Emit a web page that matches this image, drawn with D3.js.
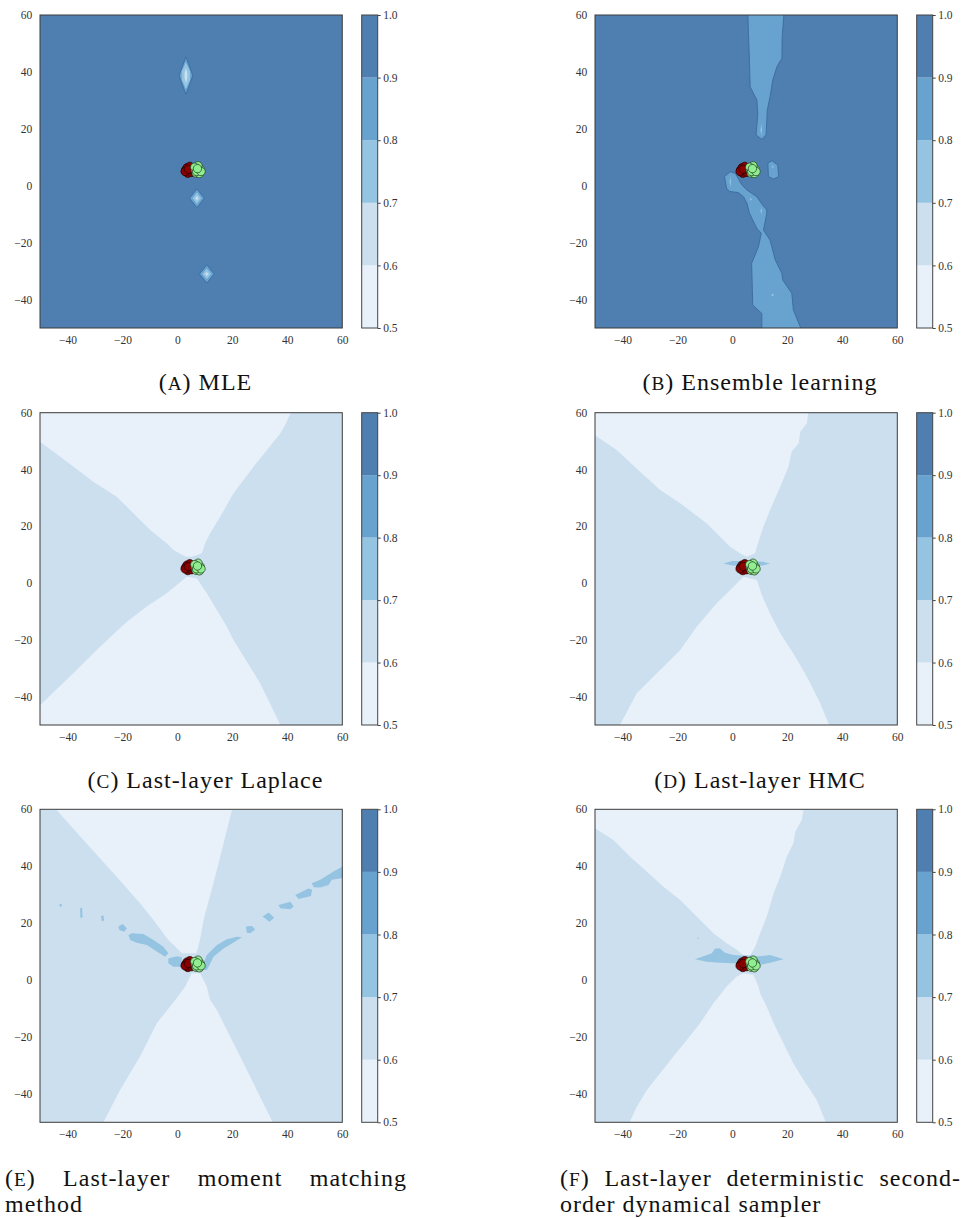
<!DOCTYPE html>
<html>
<head>
<meta charset="utf-8">
<script src="https://cdn.jsdelivr.net/npm/d3@7"></script>
<style>
  body { margin: 0; background: #fff; }
  svg { display: block; }
</style>
</head>
<body>
<svg id="fig" width="963" height="1218" font-family="Liberation Serif, DejaVu Serif, serif"></svg>
<script>
// ---- axes and colour levels ----
const xDomain = [-50, 60];
const yDomain = [-50, 60];
const xTicks = [-40, -20, 0, 20, 40, 60];
const yTicks = [-40, -20, 0, 20, 40, 60];
const levels = [0.5, 0.6, 0.7, 0.8, 0.9, 1.0];
const levelFills = ["#e8f1f9", "#cbdfef", "#94c4e1", "#68a2cf", "#4f7fb0"];

// ---- training points (two classes) ----
const redPoints = [[3.0, 5.5], [3.5, 6.3], [4.2, 5.0], [4.8, 6.0], [3.8, 4.4], [5.2, 4.7],
                   [4.5, 6.8], [2.8, 5.0], [5.5, 5.6], [4.0, 5.8]];
const greenPoints = [[6.5, 5.5], [7.2, 6.3], [7.8, 5.2], [6.8, 4.5], [8.3, 5.8], [7.5, 7.0],
                     [8.0, 4.3], [6.3, 6.5], [7.0, 5.0], [8.6, 5.0], [7.3, 6.0]];

// ---- confidence regions: lower level of each band + outline in data units ----
const mleRegions = [
  { lv: 0.8, pts: [[3.1, 45.3], [5.6, 38.7], [3.1, 32.1], [0.6, 38.7]] },
  { lv: 0.7, pts: [[3.1, 43.4], [4.6, 40.2], [4.6, 37.2], [3.1, 34.0], [1.6, 37.2], [1.6, 40.2]] },
  { lv: 0.6, pts: [[3.1, 41.5], [3.6, 39.5], [3.6, 37.9], [3.1, 36.0], [2.6, 37.9], [2.6, 39.5]] },
  { lv: 0.8, pts: [[7.1, -1.1], [9.8, -4.4], [7.1, -7.7], [4.4, -4.4]] },
  { lv: 0.7, pts: [[7.1, -2.4], [8.7, -4.4], [7.1, -6.4], [5.5, -4.4]] },
  { lv: 0.6, pts: [[7.1, -3.6], [7.7, -4.4], [7.1, -5.2], [6.5, -4.4]] },
  { lv: 0.8, pts: [[10.7, -27.8], [13.4, -31.0], [10.7, -34.2], [8.0, -31.0]] },
  { lv: 0.7, pts: [[10.7, -29.1], [12.3, -31.0], [10.7, -32.9], [9.1, -31.0]] },
  { lv: 0.6, pts: [[10.7, -30.3], [11.3, -31.0], [10.7, -31.7], [10.1, -31.0]] }
];

const ensembleRegions = [
  { lv: 0.8, pts: [[5.6, 61], [5.85, 53.6], [6.2, 44.2], [6.45, 34.8], [8.9, 30.1], [9.25, 25.4], [8.6, 17.8],
                   [10.7, 16.3], [12.25, 17.8], [12.7, 26.6], [13.7, 31.3], [14.7, 37.2], [16.2, 41.8],
                   [18.0, 44.8], [18.1, 52.4], [18.8, 61]] },
  { lv: 0.8, pts: [[-0.8, 4.9], [1.0, 4.4], [3.4, 0.3], [5.3, -1.5], [8.9, -3.9], [10.7, -6.4], [12.5, -8.5],
                   [12.5, -9.7], [11.3, -15.6], [13.7, -19.1], [15.6, -26.1], [18.0, -30.8], [18.3, -33.1],
                   [21.6, -37.8], [22.2, -43.7], [25.3, -51], [10.7, -51], [10.7, -44.9], [7.4, -41.9],
                   [7.0, -27.3], [9.5, -21.4], [10.5, -16.7], [8.9, -15.0], [6.2, -9.7], [5.3, -6.2],
                   [4.05, -3.9], [2.2, -2.4], [-1.1, -2.0], [-2.1, -0.9], [-2.9, 3.2]] },
  { lv: 0.8, pts: [[14.35, 8.8], [16.5, 7.3], [16.8, 3.2], [14.95, 2.35], [13.1, 3.2], [12.9, 7.9]] },
  { lv: 0.7, pts: [[10.5, 22.0], [10.8, 19.5], [10.5, 17.6], [10.2, 19.5]] },
  { lv: 0.7, pts: [[-0.75, 3.4], [-0.5, 1.4], [-0.75, -0.6], [-1.0, 1.4]] },
  { lv: 0.7, pts: [[6.7, -4.3], [7.1, -4.8], [6.7, -5.3], [6.3, -4.8]] },
  { lv: 0.7, pts: [[10.5, -7.8], [10.8, -8.8], [10.5, -10.0], [10.2, -8.8]] },
  { lv: 0.7, pts: [[14.6, -37.9], [15.1, -38.4], [14.6, -38.9], [14.1, -38.4]] },
  { lv: 0.7, pts: [[14.7, 7.3], [15.0, 6.7], [14.7, 6.1], [14.4, 6.7]] }
];

const laplaceRegions = [
  { lv: 0.5, pts: [[-51, 61], [-51, 50.5], [-50, 49.8], [-40.3, 42.8], [-30.6, 35.7], [-22.1, 30.4], [-15.4, 24.0],
                   [-9.9, 18.7], [-3.9, 14.0], [-1.4, 11.6], [1.6, 10.0], [3.4, 9.3], [5.2, 9.3], [7.1, 9.9],
                   [8.9, 10.5], [10.1, 14.0], [11.9, 17.5], [15.6, 23.4], [20.4, 31.6], [27.7, 41.0],
                   [32.6, 46.9], [37.4, 52.7], [39.2, 55.7], [41.7, 61]] },
  { lv: 0.5, pts: [[-51, -51], [-51, -43.8], [-50, -43.0], [-37.9, -31.8], [-28.15, -22.4], [-18.4, -13.6],
                   [-11.15, -8.3], [-3.9, -3.6], [1.2, 0.5], [3.4, 2.2], [7.1, 1.6], [10.7, -3.6],
                   [14.35, -9.5], [18.0, -15.4], [20.4, -20.1], [24.1, -25.9], [30.1, -35.3], [38.0, -51]] }
];

const hmcRegions = [
  { lv: 0.5, pts: [[-51, 61], [-51, 52.8], [-50, 52.1], [-42.1, 46.9], [-33.6, 39.2], [-26.3, 32.8], [-19.0, 28.1],
                   [-14.2, 24.6], [-9.3, 21.0], [-4.5, 16.3], [-0.8, 12.8], [2.8, 10.5], [5.2, 9.3],
                   [8.3, 10.5], [8.9, 12.8], [11.3, 19.9], [13.7, 25.7], [17.4, 33.9], [20.4, 41.0],
                   [21.6, 46.3], [24.1, 49.2], [24.7, 53.3], [27.1, 56.3], [27.7, 61]] },
  { lv: 0.5, pts: [[-41.5, -51], [-34.8, -38.8], [-26.3, -30.6], [-19.0, -23.6], [-13.0, -15.4], [-5.7, -7.1],
                   [0.4, -1.3], [4.0, 2.2], [8.9, 1.1], [10.7, -4.2], [13.7, -10.7], [17.4, -17.7],
                   [22.2, -24.8], [27.1, -33.0], [32.0, -42.4], [35.6, -51]] },
  { lv: 0.7, pts: [[-3.3, 6.9], [0.0, 7.8], [3.0, 7.7], [3.0, 6.0], [0.0, 6.2]] },
  { lv: 0.7, pts: [[8.0, 7.8], [11.0, 7.5], [13.7, 6.9], [11.0, 6.2], [8.0, 6.0]] }
];

const momentRegions = [
  { lv: 0.5, pts: [[-45.1, 61], [-34.2, 49.2], [-22.1, 36.3], [-13.6, 27.0], [-8.7, 21.1], [-3.3, 14.1],
                   [0.4, 10.6], [1.6, 9.4], [6.8, 9.4], [7.3, 10.6], [8.2, 14.1], [9.5, 21.1], [11.3, 27.5],
                   [13.1, 34.0], [15.6, 43.4], [18.0, 52.7], [20.2, 61]] },
  { lv: 0.5, pts: [[-27.5, -51], [-20.9, -38.7], [-13.6, -26.9], [-7.5, -15.2], [-0.8, -7.0], [2.8, -2.4],
                   [4.5, 1.0], [5.2, 2.4], [8.3, 2.4], [9.5, 0.0], [10.7, -2.4], [11.9, -7.0], [14.35, -10.5],
                   [18.0, -17.6], [22.85, -26.9], [28.9, -38.7], [35.2, -51]] },
  { lv: 0.7, pts: [[-3.3, 7.6], [-0.2, 8.4], [1.6, 8.0], [1.6, 4.7], [-1.5, 4.7], [-3.3, 5.9]] },
  { lv: 0.7, pts: [[-17.8, 15.8], [-16.6, 16.4], [-12.4, 16.2], [-8.7, 14.1], [-5.1, 11.7], [-3.3, 9.4],
                   [-4.5, 8.2], [-7.5, 10.0], [-11.1, 12.3], [-14.8, 13.1], [-17.2, 14.1]] },
  { lv: 0.7, pts: [[-21.5, 18.8], [-19.9, 19.7], [-18.4, 18.2], [-19.4, 17.0], [-21.1, 17.6]] },
  { lv: 0.7, pts: [[-27.8, 22.5], [-26.9, 22.7], [-26.7, 20.9], [-27.5, 20.7]] },
  { lv: 0.7, pts: [[-35.4, 25.2], [-34.7, 25.4], [-34.5, 22.0], [-35.3, 21.9]] },
  { lv: 0.7, pts: [[-43.0, 26.6], [-42.2, 26.8], [-42.0, 25.8], [-42.8, 25.8]] },
  { lv: 0.7, pts: [[9.5, 5.9], [10.7, 8.8], [14.4, 12.3], [18.0, 14.3], [21.6, 15.2], [23.5, 15.0], [21.0, 13.5],
                   [16.8, 11.1], [13.1, 8.2], [11.7, 5.3], [10.7, 3.5], [9.5, 3.5]] },
  { lv: 0.7, pts: [[24.9, 18.8], [27.1, 19.0], [28.3, 17.8], [26.5, 16.4], [25.3, 16.6]] },
  { lv: 0.7, pts: [[31.0, 22.3], [33.2, 23.7], [35.2, 21.9], [33.5, 20.5]] },
  { lv: 0.7, pts: [[36.8, 26.4], [41.1, 27.5], [42.3, 25.8], [41.1, 24.9], [37.4, 25.2]] },
  { lv: 0.7, pts: [[42.9, 29.9], [47.7, 32.2], [49.0, 31.7], [48.6, 29.5], [44.1, 28.5]] },
  { lv: 0.7, pts: [[48.9, 34.0], [52.0, 35.2], [56.8, 38.1], [61, 40.4], [61, 36.0], [56.2, 35.2], [55.0, 33.4],
                   [52.0, 32.5], [49.6, 32.6]] }
];

const samplerRegions = [
  { lv: 0.5, pts: [[-51, 61], [-51, 54.0], [-50, 53.3], [-43.3, 49.2], [-37.3, 43.4], [-31.2, 38.1], [-25.1, 32.8],
                   [-19.0, 28.1], [-13.0, 22.3], [-6.9, 16.4], [-2.1, 12.9], [1.6, 10.6], [4.0, 8.8],
                   [6.5, 8.8], [8.3, 11.7], [10.1, 16.4], [12.5, 22.3], [15.0, 30.5], [17.4, 36.3],
                   [19.8, 43.4], [22.2, 48.1], [22.9, 52.2], [25.3, 56.3], [26.1, 61]] },
  { lv: 0.5, pts: [[-37.9, -51], [-34.8, -44.5], [-31.2, -38.7], [-26.3, -32.8], [-21.5, -26.9], [-16.6, -21.1],
                   [-11.8, -15.2], [-6.9, -8.2], [-2.1, -2.3], [1.6, 1.2], [4.0, 2.4], [7.7, 1.8], [9.5, -2.3],
                   [10.1, -4.7], [12.5, -9.4], [15.0, -15.2], [18.6, -22.3], [22.2, -29.3], [25.9, -35.1],
                   [30.7, -42.2], [34.4, -51]] },
  { lv: 0.7, pts: [[-13.6, 7.3], [-7.5, 9.4], [-6.3, 11.1], [-4.5, 11.1], [-2.7, 9.6], [0.4, 8.8], [3.0, 8.6],
                   [10.1, 8.4], [13.7, 8.8], [18.6, 7.3], [13.7, 6.1], [10.1, 5.3], [3.0, 5.5], [0.4, 5.9],
                   [-4.5, 6.1], [-9.3, 6.4]] },
  { lv: 0.7, pts: [[-12.5, 15.0], [-12.2, 14.7], [-12.5, 14.4], [-12.8, 14.7]] }
];

const panels = [
  { id: "a", letter: "A", title: ["MLE"], base: 0.9, regions: mleRegions, edges: true },
  { id: "b", letter: "B", title: ["Ensemble learning"], base: 0.9, regions: ensembleRegions, edges: true },
  { id: "c", letter: "C", title: ["Last-layer Laplace"], base: 0.6, regions: laplaceRegions, edges: false },
  { id: "d", letter: "D", title: ["Last-layer HMC"], base: 0.6, regions: hmcRegions, edges: false },
  { id: "e", letter: "E", justified: [["Last-layer", "moment", "matching"], ["method"]],
    base: 0.6, regions: momentRegions, edges: false },
  { id: "f", letter: "F", justified: [["Last-layer", "deterministic", "second-"], ["order dynamical sampler"]],
    base: 0.6, regions: samplerRegions, edges: false }
];

// ---- layout ----
const serif = "Liberation Serif, DejaVu Serif, serif";
const cols = [{ x0: 40, x1: 342.3, capL: 5, capR: 406 }, { x0: 595, x1: 897.3, capL: 560, capR: 960 }];
const rows = [{ y0: 15, y1: 328, cap: 389.5 }, { y0: 412.7, y1: 725, cap: 787.5 }, { y0: 809.3, y1: 1122.3, cap: 1186 }];
const cbGap = 19.4, cbWidth = 16;
const tickFont = 11.5;
const lineGap = 26;

const fillOf = lv => levelFills[Math.round((lv - 0.5) * 10)];
const svg = d3.select("#fig");

// caption size: the serif face in use is scaled so a full caption line spans about 238px
const probe = svg.append("text").style("font-family", serif).attr("font-size", 20).text("(C) Last-layer Laplace");
const probeW = probe.node().getComputedTextLength();
const capFont = Math.min(24, 20 * 232 / probeW);
const capSpacing = Math.max(0, (238 - probeW * capFont / 20) / 21);
probe.remove();

function addLabel(text, letter) {
  text.append("tspan").text("(");
  text.append("tspan").attr("font-size", "0.8em").text(letter);
  text.append("tspan").text(")");
}

panels.forEach((p, i) => {
  const c = cols[i % 2], r = rows[Math.floor(i / 2)];
  const x = d3.scaleLinear().domain(xDomain).range([c.x0, c.x1]);
  const y = d3.scaleLinear().domain(yDomain).range([r.y1, r.y0]);
  const g = svg.append("g").attr("class", "panel-" + p.id);

  const clipId = "clip-" + p.id;
  g.append("clipPath").attr("id", clipId)
    .append("rect").attr("x", c.x0).attr("y", r.y0).attr("width", c.x1 - c.x0).attr("height", r.y1 - r.y0);

  const field = g.append("g").attr("clip-path", `url(#${clipId})`);
  field.append("rect")
    .attr("x", x(xDomain[0])).attr("y", y(yDomain[1]))
    .attr("width", x(xDomain[1]) - x(xDomain[0])).attr("height", y(yDomain[0]) - y(yDomain[1]))
    .attr("fill", fillOf(p.base));

  // the 0.9 contour line is drawn dark where the field dips below it
  const outline = d3.line().x(d => x(d[0])).y(d => y(d[1])).curve(d3.curveLinearClosed);
  field.selectAll("path.region").data(p.regions).join("path")
    .attr("class", "region")
    .attr("d", d => outline(d.pts))
    .attr("fill", d => fillOf(d.lv))
    .attr("stroke", d => (p.edges && d.lv === 0.8) ? "#3a6b9f" : "none")
    .attr("stroke-width", 0.9)
    .attr("stroke-linejoin", "round");

  field.selectAll("circle.red").data(redPoints).join("circle")
    .attr("class", "red")
    .attr("cx", d => x(d[0])).attr("cy", d => y(d[1])).attr("r", 4.2)
    .attr("fill", "#8b0000").attr("stroke", "#1a0000").attr("stroke-width", 0.7);
  field.selectAll("circle.green").data(greenPoints).join("circle")
    .attr("class", "green")
    .attr("cx", d => x(d[0])).attr("cy", d => y(d[1])).attr("r", 4.2)
    .attr("fill", "#90ee90").attr("stroke", "#1f3a1f").attr("stroke-width", 0.7);

  g.append("rect")
    .attr("x", c.x0).attr("y", r.y0).attr("width", c.x1 - c.x0).attr("height", r.y1 - r.y0)
    .attr("fill", "none").attr("stroke", "#3a3a3a").attr("stroke-width", 1);

  // axes
  const xAxis = g.append("g").attr("transform", `translate(0,${r.y1})`)
    .call(d3.axisBottom(x).tickValues(xTicks).tickSize(0).tickPadding(7.5));
  const yAxis = g.append("g").attr("transform", `translate(${c.x0},0)`)
    .call(d3.axisLeft(y).tickValues(yTicks).tickSize(0).tickPadding(7.7));
  [xAxis, yAxis].forEach(a => {
    a.attr("font-family", serif);
    a.select(".domain").remove();
    a.selectAll("text").style("font-family", serif).attr("font-size", tickFont).attr("fill", "#333");
  });

  // colour bar
  const cbX = c.x1 + cbGap;
  const cb = d3.scaleLinear().domain([levels[0], levels[levels.length - 1]]).range([r.y1, r.y0]);
  const bands = d3.pairs(levels);
  g.selectAll("rect.cb").data(bands).join("rect")
    .attr("class", "cb")
    .attr("x", cbX).attr("width", cbWidth)
    .attr("y", d => cb(d[1])).attr("height", d => cb(d[0]) - cb(d[1]))
    .attr("fill", d => fillOf(d[0]));
  g.append("rect")
    .attr("x", cbX).attr("y", r.y0).attr("width", cbWidth).attr("height", r.y1 - r.y0)
    .attr("fill", "none").attr("stroke", "#444").attr("stroke-width", 1);
  const cbAxis = g.append("g").attr("transform", `translate(${cbX + cbWidth},0)`)
    .call(d3.axisRight(cb).tickValues(levels).tickFormat(d3.format(".1f")).tickSize(3).tickPadding(2.5));
  cbAxis.attr("font-family", serif);
  cbAxis.select(".domain").remove();
  cbAxis.selectAll("line").attr("stroke", "#444");
  cbAxis.selectAll("text").style("font-family", serif).attr("font-size", tickFont).attr("fill", "#333");

  // caption
  const cap = g.append("g").attr("font-size", capFont).attr("letter-spacing", capSpacing)
    .attr("fill", "#111").attr("font-family", serif);
  if (p.title) {
    const t = cap.append("text").style("font-family", serif)
      .attr("x", (c.capL + c.capR) / 2).attr("y", r.cap).attr("text-anchor", "middle");
    addLabel(t, p.letter);
    t.append("tspan").text(" " + p.title[0]);
  } else {
    // first line fully justified, second line set flush left
    const first = p.justified[0];
    const items = [];
    const lt = cap.append("text").style("font-family", serif).attr("y", r.cap);
    addLabel(lt, p.letter);
    items.push(lt);
    first.forEach(w => items.push(cap.append("text").style("font-family", serif).attr("y", r.cap).text(w)));
    const widths = items.map(n => n.node().getComputedTextLength() - capSpacing);
    const total = d3.sum(widths);
    const gap = (c.capR - c.capL - total) / (items.length - 1);
    let cx = c.capL;
    items.forEach((n, k) => { n.attr("x", cx); cx += widths[k] + gap; });
    cap.append("text").style("font-family", serif)
      .attr("x", c.capL).attr("y", r.cap + lineGap).text(p.justified[1][0]);
  }
});
</script>
</body>
</html>
